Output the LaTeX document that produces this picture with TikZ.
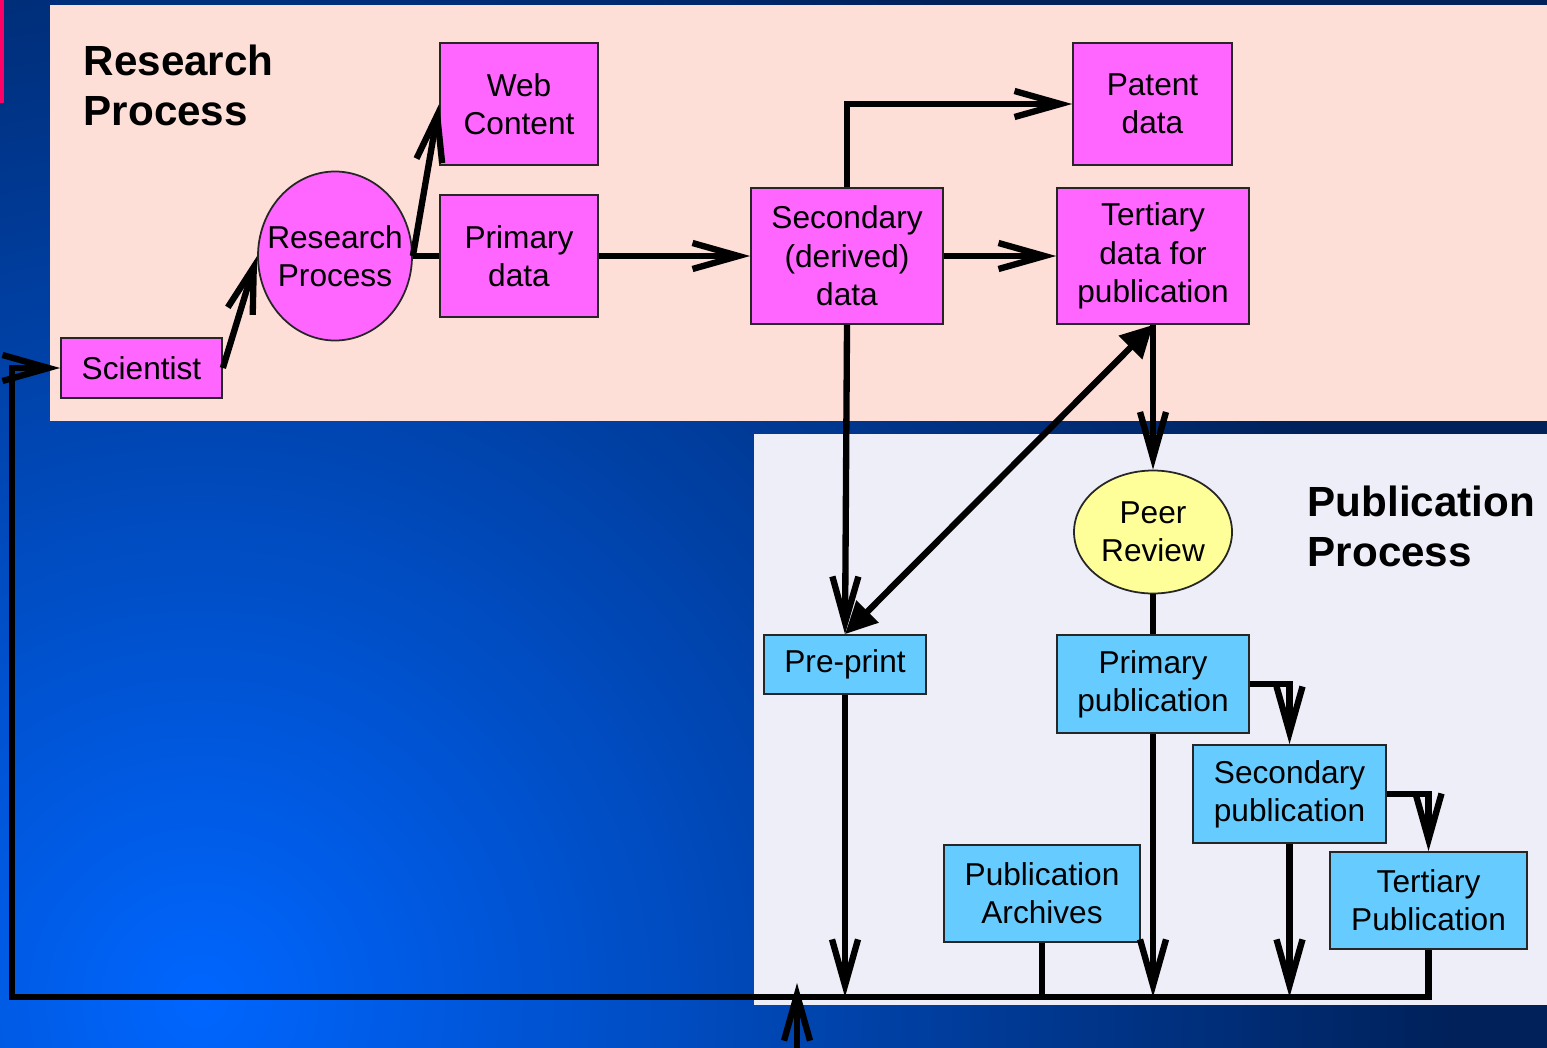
\documentclass[tikz,border=0pt]{standalone}
\usepackage{fontspec}
\setmainfont{Liberation Sans}
\usetikzlibrary{arrows.meta,shapes.geometric}
\definecolor{bgdark}{HTML}{00215A}
\definecolor{bgbright}{HTML}{0066FF}
\definecolor{respink}{HTML}{FDDFD8}
\definecolor{publav}{HTML}{EEEEF8}
\definecolor{magbox}{HTML}{FF66FF}
\definecolor{cyanbox}{HTML}{66CCFF}
\definecolor{peeryel}{HTML}{FFFF99}
\definecolor{markred}{HTML}{FF0066}
\tikzset{
  flow/.style={-{Straight Barb[length=4.6mm, width=2.6mm]}, line width=1.8pt, draw=black},
  link/.style={line width=1.8pt, draw=black},
  both/.style={{Triangle[length=3.2mm, width=3mm]}-{Triangle[length=3.2mm, width=3.2mm]}, line width=1.8pt, draw=black},
  resbox/.style={draw=black!85, line width=0.5pt, fill=magbox, rectangle, align=center, inner sep=0pt, font=\fontsize{9}{10.9}\selectfont},
  pubbox/.style={resbox, fill=cyanbox},
  resoval/.style={resbox, ellipse, inner xsep=-2mm},
  peeroval/.style={resoval, fill=peeryel},
  heading/.style={anchor=north west, align=left, inner sep=0pt, font=\fontsize{12}{14.2}\selectfont\bfseries}
}

\begin{document}
\begin{tikzpicture}[x=0.1mm, y=-0.1mm]
  \useasboundingbox (0,0) rectangle (1547,1047);
  % backdrop
  \begin{scope}
    \clip (-20,-20) rectangle (1570,1070);
    \fill[bgdark] (-20,-20) rectangle (1570,1070);
    \shade[inner color=bgbright, outer color=bgdark] (200,1000) circle (1250);
  \end{scope}
  \fill[markred] (-5,-5) rectangle (4,103);
  \fill[respink] (50,5) rectangle (1560,421);
  \fill[publav] (754,434) rectangle (1560,1005);

  \node[heading] (restitle) at (83,44) {Research\\Process};
  \node[heading] (pubtitle) at (1307,485) {Publication\\Process};

  % research process
  \node[resbox, minimum width=16.1mm, minimum height=6mm] (sci) at (141.5,368) {Scientist};
  \node[resoval, minimum width=15.4mm, minimum height=16.9mm] (rp) at (335,256) {Research\\Process};
  \node[resbox, minimum width=15.8mm, minimum height=12.2mm] (web) at (519,104) {Web\\Content};
  \node[resbox, minimum width=15.8mm, minimum height=12.2mm] (pd) at (519,256) {Primary\\data};
  \node[resbox, minimum width=19.2mm, minimum height=13.6mm] (sec) at (847,256) {Secondary\\(derived)\\data};
  \node[resbox, minimum width=15.9mm, minimum height=12.2mm] (pat) at (1152.5,104) {Patent\\data};
  \node[resbox, minimum width=19.2mm, minimum height=13.6mm] (tert) at (1153,256) {Tertiary\\data for\\publication};

  % publication process
  \node[peeroval, minimum width=15.8mm, minimum height=12.3mm] (peer) at (1153,532) {Peer\\Review};
  \node[pubbox, minimum width=16.2mm, minimum height=5.9mm] (pre) at (845,664.5) {Pre-print};
  \node[pubbox, minimum width=19.2mm, minimum height=9.8mm] (prim) at (1153,684) {Primary\\publication};
  \node[pubbox, minimum width=19.3mm, minimum height=9.8mm] (secpub) at (1289.5,794) {Secondary\\publication};
  \node[pubbox, minimum width=19.7mm, minimum height=9.7mm] (tertpub) at (1428.5,900.5) {Tertiary\\Publication};
  \node[pubbox, minimum width=19.6mm, minimum height=9.7mm] (arch) at (1042,893.5) {Publication\\Archives};

  \coordinate (busL) at (12,997);
  \coordinate (busR) at (tertpub.south |- busL);
  \coordinate (feedin) at (797,1060);
  \coordinate (feedtip) at (797,983);

  \draw[flow] (sci.east) -- (rp.west);
  \draw[flow] (rp.east) -- (web.west);
  \draw[link] (rp.east) -- (pd.west);
  \draw[flow] (pd) -- (sec);
  \draw[flow] (sec) -- (tert);
  \draw[flow] (sec.north) |- (pat.west);
  \draw[flow] (sec.south) -- (pre.north);
  \draw[both] (pre.north) -- (tert.south);
  \draw[flow] (tert.south) -- (peer.north);
  \draw[link] (peer.south) -- (prim.north);
  \draw[flow] (prim.east) -| (secpub.north);
  \draw[flow] (secpub.east) -| (tertpub.north);
  \draw[flow] (pre.south) -- (pre.south |- busL);
  \draw[flow] (prim.south) -- (prim.south |- busL);
  \draw[flow] (secpub.south) -- (secpub.south |- busL);
  \draw[link] (arch.south) -- (arch.south |- busL);
  \draw[flow] (tertpub.south) -- (busR) -- (busL) |- (sci.west);
  \draw[flow] (feedin) -- (feedtip);
\end{tikzpicture}
\end{document}
